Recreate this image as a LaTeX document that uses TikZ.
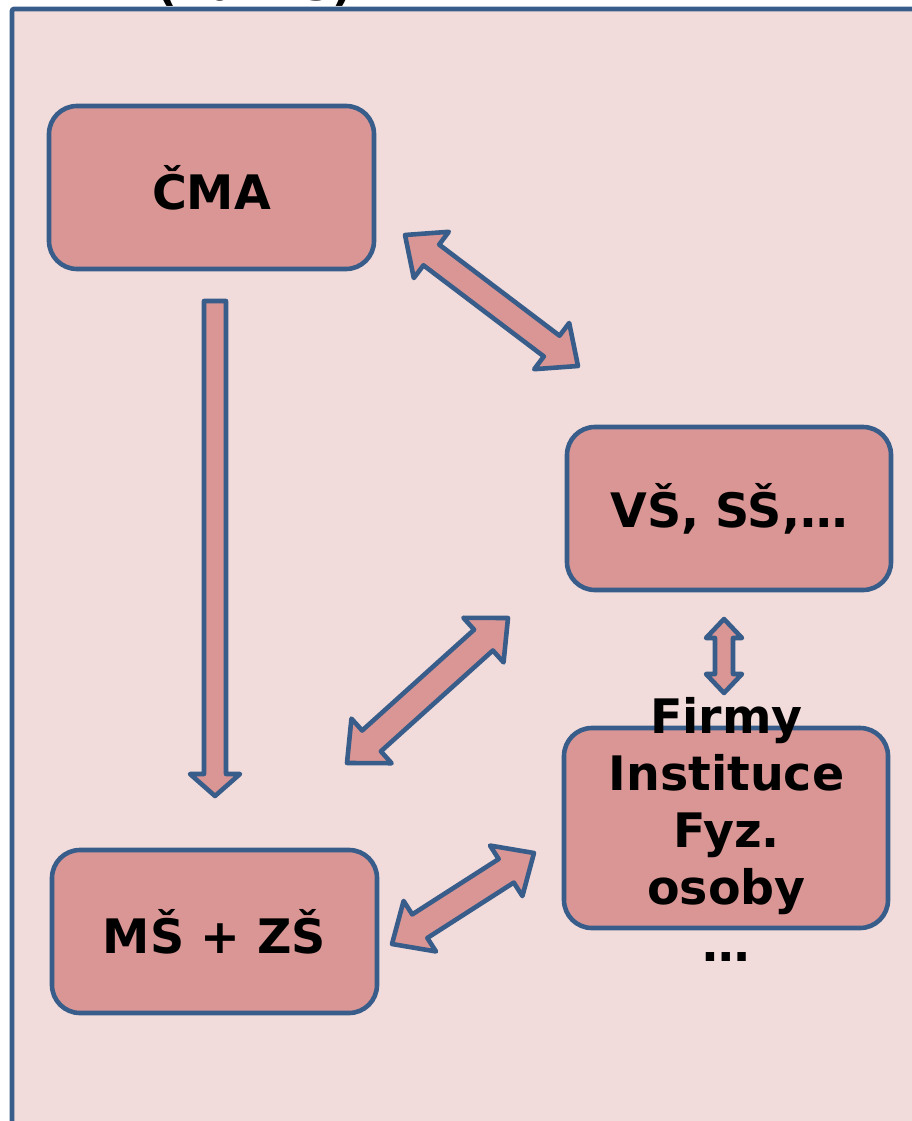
\documentclass[tikz,border=0pt]{standalone}
\usepackage{fontspec}
\setmainfont{DejaVu Sans}
\usetikzlibrary{calc}
\definecolor{bline}{HTML}{385D8A}
\definecolor{bfill}{HTML}{D99694}
\definecolor{bgfill}{HTML}{F2DCDB}
\tikzset{
  box/.style={draw=bline, fill=bfill, line width=4.6pt, rounded corners=28pt,
    minimum width=325pt, minimum height=163pt, inner sep=0pt,
    font=\fontsize{47.5}{57}\selectfont\bfseries, text=black},
  lbl/.style={font=\fontsize{47.5}{57}\selectfont\bfseries, align=center, text=black, inner sep=0pt},
  blockarrow/.style={draw=bline, fill=bfill, line width=4.6pt, line join=round},
  frame/.style={draw=bline, fill=bgfill, line width=4.6pt, rounded corners=2pt},
}
% #1 start, #2 end, #3 head length, #4 half head width, #5 half shaft width
\newcommand\dblblockarrow[5]{%
  \draw[blockarrow] (#1) -- ($(#1)!#3!(#2)!#4!90:(#2)$) -- ($(#1)!#3!(#2)!#5!90:(#2)$)
    -- ($(#2)!#3!(#1)!#5!-90:(#1)$) -- ($(#2)!#3!(#1)!#4!-90:(#1)$) -- (#2)
    -- ($(#2)!#3!(#1)!#4!90:(#1)$) -- ($(#2)!#3!(#1)!#5!90:(#1)$)
    -- ($(#1)!#3!(#2)!#5!-90:(#2)$) -- ($(#1)!#3!(#2)!#4!-90:(#2)$) -- cycle;}
\newcommand\sglblockarrow[5]{%
  \draw[blockarrow] ($(#1)!#5!90:(#2)$) -- ($(#2)!#3!(#1)!#5!-90:(#1)$)
    -- ($(#2)!#3!(#1)!#4!-90:(#1)$) -- (#2) -- ($(#2)!#3!(#1)!#4!90:(#1)$)
    -- ($(#2)!#3!(#1)!#5!90:(#1)$) -- ($(#1)!#5!-90:(#2)$) -- cycle;}
\begin{document}
\begin{tikzpicture}[x=1pt,y=-1pt]
\useasboundingbox (0,0) rectangle (912,1121);
% clipped title above the frame
\node[font=\fontsize{45}{50}\selectfont\bfseries, anchor=base, inner sep=0pt] (title) at (255,1) {(na MŠ)};
% frame
\draw[frame] (12,9) rectangle (940,1150);
% boxes
\node[box] (cma) at (211.5,187.5) {ČMA};
\node[box, minimum width=324pt] (vs) at (729,508.5) {VŠ, SŠ,…};
\node[box] (ms) at (214.5,931.5) {MŠ + ZŠ};
\node[box, minimum width=324pt, minimum height=200pt] (firm) at (726,828) {};
\node[lbl] (firmtxt) at (726.5,829) {Firmy\\Instituce\\Fyz.\\osoby\\…};
% arrow end points
\coordinate (d1) at (215,301);
\coordinate (d2) at (215,796);
\coordinate (a1) at (405,235);
\coordinate (b1) at (578,366);
\coordinate (a2) at (508,618);
\coordinate (b2) at (347,763);
\coordinate (a3) at (534,853);
\coordinate (b3) at (392,944);
\coordinate (a4) at (724,619);
\coordinate (b4) at (724,693);
% block arrows
\sglblockarrow{d1}{d2}{22pt}{25pt}{11pt}
\dblblockarrow{a1}{b1}{33pt}{29pt}{13pt}
\dblblockarrow{a2}{b2}{33pt}{30pt}{14pt}
\dblblockarrow{a3}{b3}{33pt}{30pt}{14pt}
\dblblockarrow{a4}{b4}{19pt}{18pt}{9pt}
\end{tikzpicture}
\end{document}
